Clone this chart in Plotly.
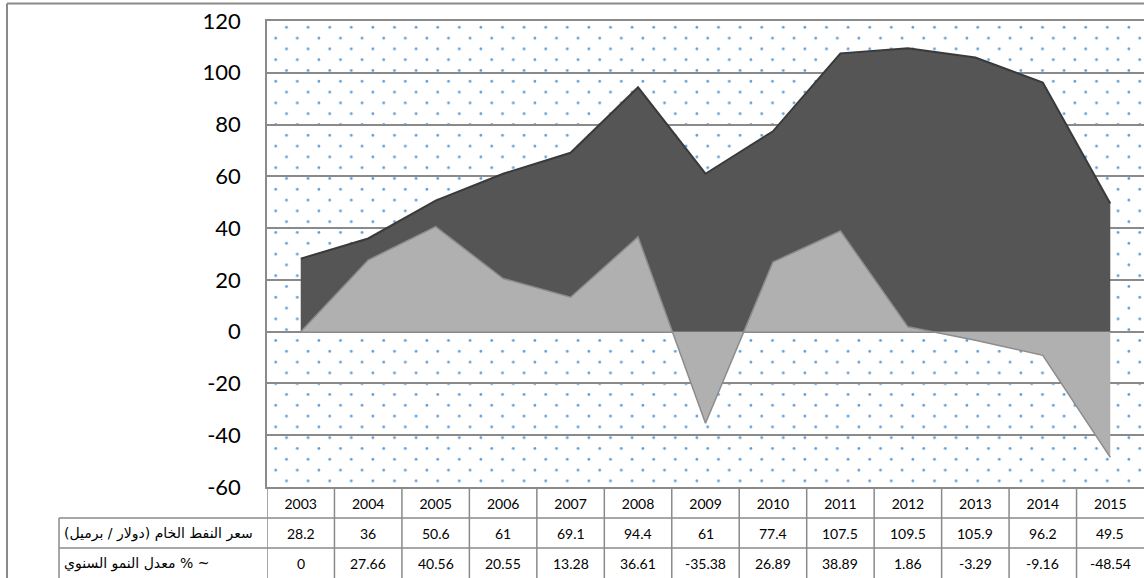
import base64
import plotly.graph_objects as go

# ----------------------
# Data
# ----------------------
years = ["2003", "2004", "2005", "2006", "2007", "2008", "2009",
         "2010", "2011", "2012", "2013", "2014", "2015"]
oil_price = [28.2, 36, 50.6, 61, 69.1, 94.4, 61, 77.4, 107.5, 109.5, 105.9, 96.2, 49.5]
growth_rate = [0, 27.66, 40.56, 20.55, 13.28, 36.61, -35.38, 26.89, 38.89, 1.86, -3.29, -9.16, -48.54]
row_labels = ["سعر النفط الخام (دولار / برميل)", "معدل النمو السنوي % ~"]
y_ticks = [-60, -40, -20, 0, 20, 40, 60, 80, 100, 120]

# ----------------------
# Geometry (pixels)
# ----------------------
W, H = 1144, 578
L, R, T, B = 267, 0, 21, 91
PW, PH = W - L - R, H - T - B
GRID = "#8a8a8a"


def px_x(px):
    # pixel x -> paper x
    return (px - L) / PW


def px_y(py):
    # pixel y -> paper y
    return (H - B - py) / PH


# dotted background as an inline svg
svg = (
    f"<svg xmlns='http://www.w3.org/2000/svg' width='{PW}' height='{PH}' viewBox='0 0 {PW} {PH}'>"
    "<defs><pattern id='d' width='21.6' height='21.6' patternUnits='userSpaceOnUse'>"
    "<circle cx='19.5' cy='6.3' r='1.4' fill='#5b9bd5'/>"
    "<circle cx='8.7' cy='17.1' r='1.4' fill='#5b9bd5'/>"
    "<circle cx='-2.1' cy='6.3' r='1.4' fill='#5b9bd5'/>"
    "</pattern></defs><rect width='100%' height='100%' fill='url(#d)'/></svg>"
)
svg_src = "data:image/svg+xml;base64," + base64.b64encode(svg.encode()).decode()

fig = go.Figure()

# oil price area (dark)
fig.add_trace(
    go.Scatter(
        x=years,
        y=oil_price,
        mode="lines",
        fill="tozeroy",
        fillcolor="#555555",
        line=dict(color="#3a3a3a", width=2),
        hoverinfo="x+y",
    )
)

# growth rate area (light)
fig.add_trace(
    go.Scatter(
        x=years,
        y=growth_rate,
        mode="lines",
        fill="tozeroy",
        fillcolor="#b0b0b0",
        line=dict(color="#8c8c8c", width=1.5),
        hoverinfo="x+y",
    )
)

shapes = []
annotations = []

# table: horizontal lines
for py in (518, 548):
    shapes.append(dict(type="line", xref="paper", yref="paper",
                       x0=px_x(59), x1=1, y0=px_y(py), y1=px_y(py),
                       line=dict(color=GRID, width=1.5)))
# table: vertical lines at category boundaries (right edge is cut off)
for i in range(len(years)):
    shapes.append(dict(type="line", xref="x", yref="paper",
                       x0=i - 0.5, x1=i - 0.5, y0=px_y(H), y1=0,
                       line=dict(color=GRID, width=1.5)))
# label column left border
shapes.append(dict(type="line", xref="paper", yref="paper",
                   x0=px_x(59), x1=px_x(59), y0=px_y(518), y1=px_y(H),
                   line=dict(color=GRID, width=1.5)))
# outer chart border (top and left)
shapes.append(dict(type="line", xref="paper", yref="paper",
                   x0=px_x(7), x1=1, y0=px_y(3.5), y1=px_y(3.5),
                   line=dict(color=GRID, width=2)))
shapes.append(dict(type="line", xref="paper", yref="paper",
                   x0=px_x(7), x1=px_x(7), y0=px_y(3.5), y1=px_y(H),
                   line=dict(color=GRID, width=2)))

# table cells (x given as category index)
for row, values in enumerate([oil_price, growth_rate]):
    yc = px_y(533 + row * 30)
    for i, v in enumerate(values):
        annotations.append(dict(
            x=i, y=yc, xref="x", yref="paper", xanchor="center", yanchor="middle",
            text=f"{v:g}", showarrow=False,
            font=dict(size=14, color="black", family="Lato, Arial")))
    annotations.append(dict(
        x=px_x(62), y=yc, xref="paper", yref="paper", xanchor="left", yanchor="middle",
        text="\u200e" + row_labels[row], showarrow=False,
        font=dict(size=14, color="black", family="DejaVu Sans")))

fig.update_layout(
    width=W,
    height=H,
    margin=dict(l=L, r=R, t=T, b=B, pad=0),
    paper_bgcolor="white",
    plot_bgcolor="rgba(0,0,0,0)",
    showlegend=False,
    font=dict(family="Lato, Arial", color="black"),
    shapes=shapes,
    annotations=annotations,
    images=[dict(source=svg_src, xref="paper", yref="paper", x=0, y=1,
                 sizex=1, sizey=1, xanchor="left", yanchor="top",
                 sizing="stretch", layer="below")],
    xaxis=dict(
        type="category",
        range=[-0.5, len(years) - 0.5],
        showgrid=False,
        showline=True,
        mirror=True,
        linecolor=GRID,
        linewidth=1.5,
        ticks="",
        tickfont=dict(size=14, color="black"),
        ticklabelstandoff=3,
    ),
    yaxis=dict(
        range=[-60, 120],
        tickvals=y_ticks,
        ticktext=[str(v) for v in y_ticks],
        showgrid=True,
        gridcolor=GRID,
        gridwidth=1.5,
        zeroline=True,
        zerolinecolor=GRID,
        zerolinewidth=1.5,
        showline=True,
        linecolor=GRID,
        linewidth=1.5,
        ticks="",
        tickfont=dict(size=22, color="black"),
        ticklabelstandoff=20,
    ),
)

fig.write_html(
    "out.html",
    config={"displayModeBar": False},
    post_script="document.body.style.margin='0';",
)
